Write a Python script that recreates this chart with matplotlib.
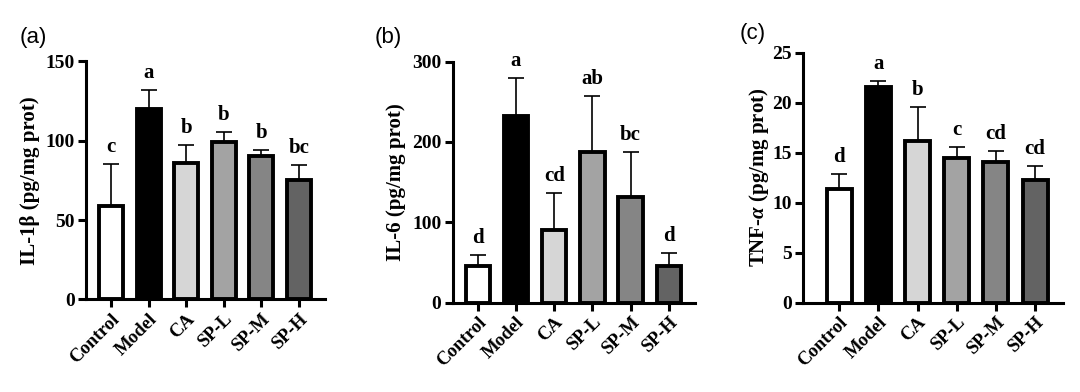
import numpy as np
import matplotlib
matplotlib.use("Agg")
import matplotlib.pyplot as plt

# groups and bar colours
groups = ["Control", "Model", "CA", "SP-L", "SP-M", "SP-H"]
colors = ["#ffffff", "#000000", "#d6d6d6", "#a3a3a3", "#858585", "#636363"]

# IL-1beta
il1b_mean = [59, 120, 86, 99, 90, 75]
il1b_err = [26, 12, 11.5, 6.5, 4, 9.5]
il1b_sig = ["c", "a", "b", "b", "b", "bc"]

# IL-6
il6_mean = [45, 232, 90, 187, 131, 46]
il6_err = [14, 48, 47, 70, 56, 16]
il6_sig = ["d", "a", "cd", "ab", "bc", "d"]

# TNF-alpha
tnf_mean = [11.4, 21.6, 16.2, 14.5, 14.1, 12.3]
tnf_err = [1.45, 0.6, 3.35, 1.1, 1.1, 1.35]
tnf_sig = ["d", "a", "b", "c", "cd", "cd"]

serif = "Liberation Serif"
plt.rcParams["mathtext.fontset"] = "custom"
plt.rcParams["mathtext.it"] = "Liberation Serif:italic:bold"
plt.rcParams["mathtext.rm"] = "Liberation Serif:bold"

fig = plt.figure(figsize=(10.8, 3.92), dpi=100)

panels = [
    ([0.0796, 0.236, 0.2213, 0.608], il1b_mean, il1b_err, il1b_sig,
     "IL-1\u03b2 (pg/mg prot)", 150, [0, 50, 100, 150], (-0.665, 5.69), "(a)", (0.018, 0.905), 4),
    ([0.419, 0.228, 0.2244, 0.615], il6_mean, il6_err, il6_sig,
     "IL-6 (pg/mg prot)", 300, [0, 100, 200, 300], (-0.66, 5.68), "(b)", (0.347, 0.905), 4),
    ([0.7432, 0.228, 0.241, 0.638], tnf_mean, tnf_err, tnf_sig,
     "TNF-$\\alpha$ (pg/mg prot)", 25, [0, 5, 10, 15, 20, 25], (-0.93, 5.71), "(c)", (0.685, 0.915), 1),
]

x = np.arange(len(groups))
for rect, mean, err, sig, ylab, ymax, yt, xl, tag, tagpos, lpad in panels:
    ax = fig.add_axes(rect)
    ax.bar(x, mean, width=0.64, color=colors, edgecolor="black", linewidth=2.8, zorder=3)
    ax.errorbar(x, mean, yerr=[np.zeros(len(err)), err], fmt="none", ecolor="black",
                elinewidth=1.2, capsize=6, capthick=1.2, zorder=2)
    for xi, m, e, s in zip(x, mean, err, sig):
        ax.annotate(s, (xi, m + e), xytext=(0, 5), textcoords="offset points",
                    ha="center", va="bottom", fontsize=15, fontweight="bold", family=serif)
    ax.set_xlim(*xl)
    ax.set_ylim(0, ymax)
    ax.set_yticks(yt)
    ax.set_xticks(x)
    ax.set_xticklabels(groups, rotation=45, ha="right", rotation_mode="anchor",
                       fontsize=13.5, fontweight="bold", family=serif)
    for lab in ax.get_yticklabels():
        lab.set_fontsize(14)
        lab.set_fontweight("bold")
        lab.set_family(serif)
    ax.set_ylabel(ylab, fontsize=15, fontweight="bold", family=serif, labelpad=lpad)
    for sp in ["top", "right"]:
        ax.spines[sp].set_visible(False)
    for sp in ["left", "bottom"]:
        ax.spines[sp].set_linewidth(2.2)
    ax.tick_params(axis="both", width=2.2, length=6, pad=2)
    fig.text(tagpos[0], tagpos[1], tag, fontsize=16, family="Liberation Sans", va="center")

fig.savefig("out.png", dpi=100)
